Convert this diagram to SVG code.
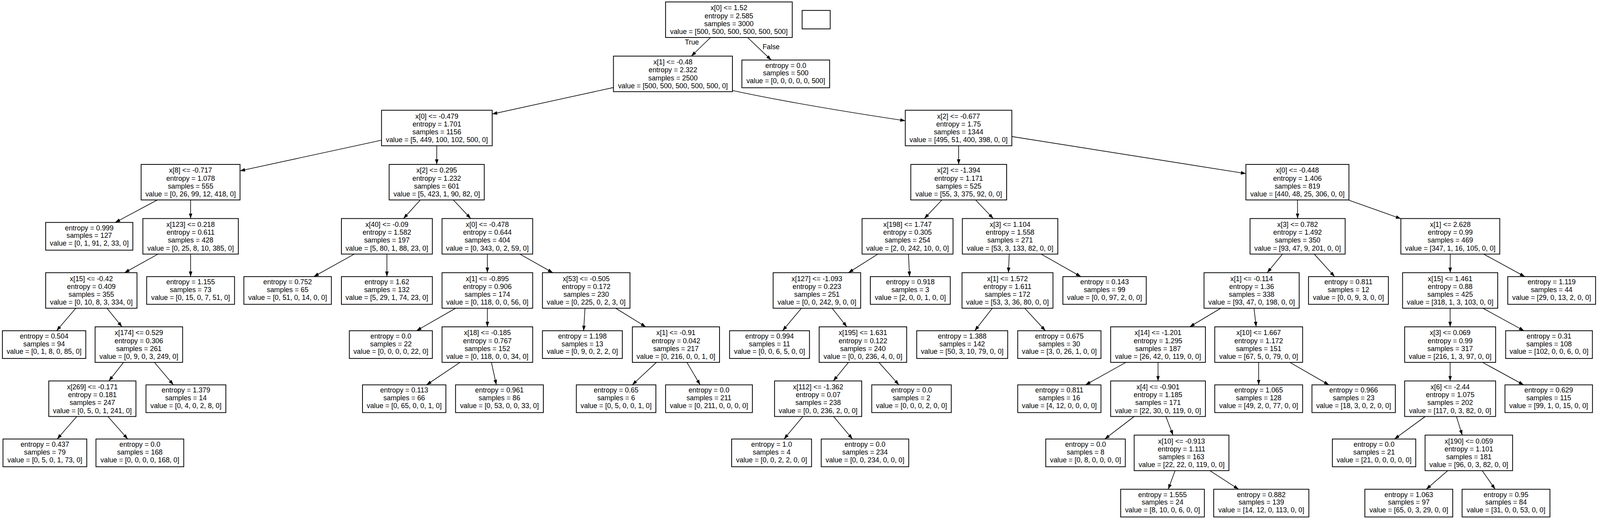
<svg xmlns="http://www.w3.org/2000/svg" width="4124" height="1329" viewBox="0 0 4124 1329">
<style>
.node rect{fill:#fff;stroke:#000;stroke-width:2}
.node text,.lbl{font-family:"Liberation Sans",Arial,Helvetica,sans-serif;font-size:18px;text-anchor:middle;fill:#000}
.edge path{fill:none;stroke:#000;stroke-width:1.6;marker-end:url(#ah)}
</style>
<defs>
<marker id="ah" markerUnits="userSpaceOnUse" markerWidth="14" markerHeight="10" refX="13" refY="4.5" orient="auto"><path d="M0,0 L13,4.5 L0,9 z" fill="#000"/></marker>
</defs>
<rect x="0" y="0" width="4124" height="1329" fill="#fff"/>
<g id="diagram" transform="scale(0.99176,1)">
<g id="edges" class="edge">
<path d="M1834.1,96 L1784.5,143.7"/>
<path d="M1929.7,96 L1990.7,153.7"/>
<path d="M1583.5,224.1 L1270.5,292"/>
<path d="M1890.6,231.7 Q2058,267.5 2336.8,309.3"/>
<path d="M984.8,359 L619.6,437.5"/>
<path d="M1127.5,373.3 L1127.3,421"/>
<path d="M2474.4,373.3 L2474.6,421"/>
<path d="M2611.8,349.6 L3216,444.5"/>
<path d="M406.1,512 L297.4,569.6"/>
<path d="M492,512 L492,559.6"/>
<path d="M1085,512 L1041.5,559.6"/>
<path d="M1170.2,512 L1215.1,559.6"/>
<path d="M2431.3,512 L2386,559.6"/>
<path d="M2518.2,512 L2563.8,559.6"/>
<path d="M3349.1,512 L3349.4,559.6"/>
<path d="M3480,512 L3616,560"/>
<path d="M407.9,650.6 L321.5,698.3"/>
<path d="M492,650.6 L492,708.3"/>
<path d="M914.6,650.6 L810,708.3"/>
<path d="M998.7,650.6 L998.7,708.3"/>
<path d="M1258,650.6 L1258,698.3"/>
<path d="M1341.8,650.6 L1427,698.3"/>
<path d="M2266,650.6 L2190,698.3"/>
<path d="M2344.9,650.6 L2347.9,708.3"/>
<path d="M2605.1,650.6 L2603,698.3"/>
<path d="M2687.4,650.6 L2790,708.3"/>
<path d="M3310.5,650.6 L3271,698.3"/>
<path d="M3392.5,650.6 L3445,708.3"/>
<path d="M3743.5,650.6 L3743.3,698.3"/>
<path d="M3829.6,650.6 L3936,708.3"/>
<path d="M195.8,789.3 L146,846.9"/>
<path d="M276.1,789.3 L315,836.9"/>
<path d="M1176.2,789.3 L1075,846.9"/>
<path d="M1258,789.3 L1258,836.9"/>
<path d="M1510,789.3 L1506.5,846.9"/>
<path d="M1589.2,789.3 L1667,836.9"/>
<path d="M2068.7,789.3 L2020,846.9"/>
<path d="M2148,789.3 L2186,836.9"/>
<path d="M2561.5,789.3 L2516,846.9"/>
<path d="M2645,789.3 L2698.5,846.9"/>
<path d="M3151.2,789.3 L3071,836.9"/>
<path d="M3236.9,789.3 L3242.5,836.9"/>
<path d="M3743.2,789.3 L3743.2,836.9"/>
<path d="M3827.8,789.3 L3933.9,846.9"/>
<path d="M318.9,927.9 L281,975.5"/>
<path d="M398.7,927.9 L447.6,985.5"/>
<path d="M1187.5,927.9 L1101,985.5"/>
<path d="M1268.4,927.9 L1281.2,985.5"/>
<path d="M1694.4,927.9 L1632,985.5"/>
<path d="M1773,927.9 L1807.3,985.5"/>
<path d="M2190,927.9 L2151,975.5"/>
<path d="M2268.7,927.9 L2320.3,985.5"/>
<path d="M2906.3,927.9 L2802,985.5"/>
<path d="M2989.2,927.9 L2989.2,975.5"/>
<path d="M3249,927.9 L3249,985.5"/>
<path d="M3329.5,927.9 L3430.4,985.5"/>
<path d="M3743.2,927.9 L3743.2,975.5"/>
<path d="M3826.7,927.9 L3933,985.5"/>
<path d="M198.2,1066.5 L147.5,1124.2"/>
<path d="M278.5,1066.5 L329.8,1124.2"/>
<path d="M2072.4,1066.5 L2023.8,1124.2"/>
<path d="M2151.7,1066.5 L2200.5,1124.2"/>
<path d="M2927.7,1066.5 L2851.7,1124.2"/>
<path d="M3009.4,1066.5 L3028,1114.2"/>
<path d="M3679,1066.5 L3599.4,1124.2"/>
<path d="M3759.4,1066.5 L3774.4,1114.2"/>
<path d="M3033.1,1205.2 L3015.6,1252.8"/>
<path d="M3122.9,1205.2 L3197.2,1252.8"/>
<path d="M3737,1205.2 L3681.5,1252.8"/>
<path d="M3826,1205.2 L3859.4,1252.8"/>
</g>
<text class="lbl" x="1786" y="114.5">True</text>
<text class="lbl" x="1990.4" y="126">False</text>

<g id="n0" class="node"><rect x="1718" y="5" width="327" height="91"/><text x="1881.5" y="26.5">x[0] &lt;= 1.52<tspan x="1881.5" dy="20.2">entropy = 2.585</tspan><tspan x="1881.5" dy="20.2">samples = 3000</tspan><tspan x="1881.5" dy="20.2">value = [500, 500, 500, 500, 500, 500]</tspan></text></g>
<g id="legend" class="node"><rect x="2070.5" y="26.7" width="72.5" height="47.3"/></g>

<g id="n1" class="node"><rect x="1583.5" y="143.7" width="307.1" height="91"/><text x="1737.05" y="165.2">x[1] &lt;= -0.48<tspan x="1737.05" dy="20.2">entropy = 2.322</tspan><tspan x="1737.05" dy="20.2">samples = 2500</tspan><tspan x="1737.05" dy="20.2">value = [500, 500, 500, 500, 500, 0]</tspan></text></g>
<g id="n2" class="node"><rect x="1915" y="153.7" width="226.5" height="71"/><text x="2028.25" y="173.7">entropy = 0.0<tspan x="2028.25" dy="19.7">samples = 500</tspan><tspan x="2028.25" dy="19.7">value = [0, 0, 0, 0, 0, 500]</tspan></text></g>

<g id="n3" class="node"><rect x="984.8" y="282.3" width="285.7" height="91"/><text x="1127.65" y="303.8">x[0] &lt;= -0.479<tspan x="1127.65" dy="20.2">entropy = 1.701</tspan><tspan x="1127.65" dy="20.2">samples = 1156</tspan><tspan x="1127.65" dy="20.2">value = [5, 449, 100, 102, 500, 0]</tspan></text></g>
<g id="n4" class="node"><rect x="2336.8" y="282.3" width="275" height="91"/><text x="2474.3" y="303.8">x[2] &lt;= -0.677<tspan x="2474.3" dy="20.2">entropy = 1.75</tspan><tspan x="2474.3" dy="20.2">samples = 1344</tspan><tspan x="2474.3" dy="20.2">value = [495, 51, 400, 398, 0, 0]</tspan></text></g>

<g id="n5" class="node"><rect x="364.3" y="421" width="255.3" height="91"/><text x="491.95" y="442.5">x[8] &lt;= -0.717<tspan x="491.95" dy="20.2">entropy = 1.078</tspan><tspan x="491.95" dy="20.2">samples = 555</tspan><tspan x="491.95" dy="20.2">value = [0, 26, 99, 12, 418, 0]</tspan></text></g>
<g id="n6" class="node"><rect x="1004.5" y="421" width="245.5" height="91"/><text x="1127.25" y="442.5">x[2] &lt;= 0.295<tspan x="1127.25" dy="20.2">entropy = 1.232</tspan><tspan x="1127.25" dy="20.2">samples = 601</tspan><tspan x="1127.25" dy="20.2">value = [5, 423, 1, 90, 82, 0]</tspan></text></g>
<g id="n7" class="node"><rect x="2351" y="421" width="247.4" height="91"/><text x="2474.7" y="442.5">x[2] &lt;= -1.394<tspan x="2474.7" dy="20.2">entropy = 1.171</tspan><tspan x="2474.7" dy="20.2">samples = 525</tspan><tspan x="2474.7" dy="20.2">value = [55, 3, 375, 92, 0, 0]</tspan></text></g>
<g id="n8" class="node"><rect x="3216" y="421" width="266" height="91"/><text x="3349" y="442.5">x[0] &lt;= -0.448<tspan x="3349" dy="20.2">entropy = 1.406</tspan><tspan x="3349" dy="20.2">samples = 819</tspan><tspan x="3349" dy="20.2">value = [440, 48, 25, 306, 0, 0]</tspan></text></g>

<g id="n9" class="node"><rect x="117.9" y="569.6" width="225" height="71"/><text x="230.4" y="589.6">entropy = 0.999<tspan x="230.4" dy="19.7">samples = 127</tspan><tspan x="230.4" dy="19.7">value = [0, 1, 91, 2, 33, 0]</tspan></text></g>
<g id="n10" class="node"><rect x="368.8" y="559.6" width="246.4" height="91"/><text x="492" y="581.1">x[123] &lt;= 0.218<tspan x="492" dy="20.2">entropy = 0.611</tspan><tspan x="492" dy="20.2">samples = 428</tspan><tspan x="492" dy="20.2">value = [0, 25, 8, 10, 385, 0]</tspan></text></g>
<g id="n11" class="node"><rect x="881.3" y="559.6" width="234.7" height="91"/><text x="998.65" y="581.1">x[40] &lt;= -0.09<tspan x="998.65" dy="20.2">entropy = 1.582</tspan><tspan x="998.65" dy="20.2">samples = 197</tspan><tspan x="998.65" dy="20.2">value = [5, 80, 1, 88, 23, 0]</tspan></text></g>
<g id="n12" class="node"><rect x="1141" y="559.6" width="234" height="91"/><text x="1258" y="581.1">x[0] &lt;= -0.478<tspan x="1258" dy="20.2">entropy = 0.644</tspan><tspan x="1258" dy="20.2">samples = 404</tspan><tspan x="1258" dy="20.2">value = [0, 343, 0, 2, 59, 0]</tspan></text></g>
<g id="n13" class="node"><rect x="2225.2" y="559.6" width="234.8" height="91"/><text x="2342.6" y="581.1">x[198] &lt;= 1.747<tspan x="2342.6" dy="20.2">entropy = 0.305</tspan><tspan x="2342.6" dy="20.2">samples = 254</tspan><tspan x="2342.6" dy="20.2">value = [2, 0, 242, 10, 0, 0]</tspan></text></g>
<g id="n14" class="node"><rect x="2484.1" y="559.6" width="246.4" height="91"/><text x="2607.3" y="581.1">x[3] &lt;= 1.104<tspan x="2607.3" dy="20.2">entropy = 1.558</tspan><tspan x="2607.3" dy="20.2">samples = 271</tspan><tspan x="2607.3" dy="20.2">value = [53, 3, 133, 82, 0, 0]</tspan></text></g>
<g id="n15" class="node"><rect x="3226.7" y="559.6" width="245.5" height="91"/><text x="3349.45" y="581.1">x[3] &lt;= 0.782<tspan x="3349.45" dy="20.2">entropy = 1.492</tspan><tspan x="3349.45" dy="20.2">samples = 350</tspan><tspan x="3349.45" dy="20.2">value = [93, 47, 9, 201, 0, 0]</tspan></text></g>
<g id="n16" class="node"><rect x="3616" y="559.6" width="255.3" height="91"/><text x="3743.65" y="581.1">x[1] &lt;= 2.628<tspan x="3743.65" dy="20.2">entropy = 0.99</tspan><tspan x="3743.65" dy="20.2">samples = 469</tspan><tspan x="3743.65" dy="20.2">value = [347, 1, 16, 105, 0, 0]</tspan></text></g>

<g id="n17" class="node"><rect x="117.9" y="698.3" width="235.7" height="91"/><text x="235.75" y="719.8">x[15] &lt;= -0.42<tspan x="235.75" dy="20.2">entropy = 0.409</tspan><tspan x="235.75" dy="20.2">samples = 355</tspan><tspan x="235.75" dy="20.2">value = [0, 10, 8, 3, 334, 0]</tspan></text></g>
<g id="n18" class="node"><rect x="378.6" y="708.3" width="226.8" height="71"/><text x="492" y="728.3">entropy = 1.155<tspan x="492" dy="19.7">samples = 73</tspan><tspan x="492" dy="19.7">value = [0, 15, 0, 7, 51, 0]</tspan></text></g>
<g id="n19" class="node"><rect x="629.5" y="708.3" width="225.9" height="71"/><text x="742.45" y="728.3">entropy = 0.752<tspan x="742.45" dy="19.7">samples = 65</tspan><tspan x="742.45" dy="19.7">value = [0, 51, 0, 14, 0, 0]</tspan></text></g>
<g id="n20" class="node"><rect x="881.3" y="708.3" width="234.7" height="71"/><text x="998.65" y="728.3">entropy = 1.62<tspan x="998.65" dy="19.7">samples = 132</tspan><tspan x="998.65" dy="19.7">value = [5, 29, 1, 74, 23, 0]</tspan></text></g>
<g id="n21" class="node"><rect x="1141" y="698.3" width="234" height="91"/><text x="1258" y="719.8">x[1] &lt;= -0.895<tspan x="1258" dy="20.2">entropy = 0.906</tspan><tspan x="1258" dy="20.2">samples = 174</tspan><tspan x="1258" dy="20.2">value = [0, 118, 0, 0, 56, 0]</tspan></text></g>
<g id="n22" class="node"><rect x="1400.2" y="698.3" width="225.9" height="91"/><text x="1513.15" y="719.8">x[53] &lt;= -0.505<tspan x="1513.15" dy="20.2">entropy = 0.172</tspan><tspan x="1513.15" dy="20.2">samples = 230</tspan><tspan x="1513.15" dy="20.2">value = [0, 225, 0, 2, 3, 0]</tspan></text></g>
<g id="n23" class="node"><rect x="1995.7" y="698.3" width="225.9" height="91"/><text x="2108.65" y="719.8">x[127] &lt;= -1.093<tspan x="2108.65" dy="20.2">entropy = 0.223</tspan><tspan x="2108.65" dy="20.2">samples = 251</tspan><tspan x="2108.65" dy="20.2">value = [0, 0, 242, 9, 0, 0]</tspan></text></g>
<g id="n24" class="node"><rect x="2246.6" y="708.3" width="206.3" height="71"/><text x="2349.75" y="728.3">entropy = 0.918<tspan x="2349.75" dy="19.7">samples = 3</tspan><tspan x="2349.75" dy="19.7">value = [2, 0, 0, 1, 0, 0]</tspan></text></g>
<g id="n25" class="node"><rect x="2483.2" y="698.3" width="234.8" height="91"/><text x="2600.6" y="719.8">x[1] &lt;= 1.572<tspan x="2600.6" dy="20.2">entropy = 1.611</tspan><tspan x="2600.6" dy="20.2">samples = 172</tspan><tspan x="2600.6" dy="20.2">value = [53, 3, 36, 80, 0, 0]</tspan></text></g>
<g id="n26" class="node"><rect x="2743.6" y="708.3" width="215.2" height="71"/><text x="2851.2" y="728.3">entropy = 0.143<tspan x="2851.2" dy="19.7">samples = 99</tspan><tspan x="2851.2" dy="19.7">value = [0, 0, 97, 2, 0, 0]</tspan></text></g>
<g id="n27" class="node"><rect x="3107.9" y="698.3" width="245.6" height="91"/><text x="3230.7" y="719.8">x[1] &lt;= -0.114<tspan x="3230.7" dy="20.2">entropy = 1.36</tspan><tspan x="3230.7" dy="20.2">samples = 338</tspan><tspan x="3230.7" dy="20.2">value = [93, 47, 0, 198, 0, 0]</tspan></text></g>
<g id="n28" class="node"><rect x="3377.6" y="708.3" width="206.2" height="71"/><text x="3480.7" y="728.3">entropy = 0.811<tspan x="3480.7" dy="19.7">samples = 12</tspan><tspan x="3480.7" dy="19.7">value = [0, 0, 9, 3, 0, 0]</tspan></text></g>
<g id="n29" class="node"><rect x="3620.4" y="698.3" width="245.6" height="91"/><text x="3743.2" y="719.8">x[15] &lt;= 1.461<tspan x="3743.2" dy="20.2">entropy = 0.88</tspan><tspan x="3743.2" dy="20.2">samples = 425</tspan><tspan x="3743.2" dy="20.2">value = [318, 1, 3, 103, 0, 0]</tspan></text></g>
<g id="n30" class="node"><rect x="3891.9" y="708.3" width="226.7" height="71"/><text x="4005.25" y="728.3">entropy = 1.119<tspan x="4005.25" dy="19.7">samples = 44</tspan><tspan x="4005.25" dy="19.7">value = [29, 0, 13, 2, 0, 0]</tspan></text></g>

<g id="n31" class="node"><rect x="6.2" y="846.9" width="215.2" height="71"/><text x="113.8" y="866.9">entropy = 0.504<tspan x="113.8" dy="19.7">samples = 94</tspan><tspan x="113.8" dy="19.7">value = [0, 1, 8, 0, 85, 0]</tspan></text></g>
<g id="n32" class="node"><rect x="245.5" y="836.9" width="225.9" height="91"/><text x="358.45" y="858.4">x[174] &lt;= 0.529<tspan x="358.45" dy="20.2">entropy = 0.306</tspan><tspan x="358.45" dy="20.2">samples = 261</tspan><tspan x="358.45" dy="20.2">value = [0, 9, 0, 3, 249, 0]</tspan></text></g>
<g id="n33" class="node"><rect x="901.8" y="846.9" width="214.2" height="71"/><text x="1008.9" y="866.9">entropy = 0.0<tspan x="1008.9" dy="19.7">samples = 22</tspan><tspan x="1008.9" dy="19.7">value = [0, 0, 0, 0, 22, 0]</tspan></text></g>
<g id="n34" class="node"><rect x="1141" y="836.9" width="234" height="91"/><text x="1258" y="858.4">x[18] &lt;= -0.185<tspan x="1258" dy="20.2">entropy = 0.767</tspan><tspan x="1258" dy="20.2">samples = 152</tspan><tspan x="1258" dy="20.2">value = [0, 118, 0, 0, 34, 0]</tspan></text></g>
<g id="n35" class="node"><rect x="1400.2" y="846.9" width="206.2" height="71"/><text x="1503.3" y="866.9">entropy = 1.198<tspan x="1503.3" dy="19.7">samples = 13</tspan><tspan x="1503.3" dy="19.7">value = [0, 9, 0, 2, 2, 0]</tspan></text></g>
<g id="n36" class="node"><rect x="1632.3" y="836.9" width="225" height="91"/><text x="1744.8" y="858.4">x[1] &lt;= -0.91<tspan x="1744.8" dy="20.2">entropy = 0.042</tspan><tspan x="1744.8" dy="20.2">samples = 217</tspan><tspan x="1744.8" dy="20.2">value = [0, 216, 0, 0, 1, 0]</tspan></text></g>
<g id="n37" class="node"><rect x="1883.2" y="846.9" width="206.3" height="71"/><text x="1986.35" y="866.9">entropy = 0.994<tspan x="1986.35" dy="19.7">samples = 11</tspan><tspan x="1986.35" dy="19.7">value = [0, 0, 6, 5, 0, 0]</tspan></text></g>
<g id="n38" class="node"><rect x="2114.5" y="836.9" width="225.9" height="91"/><text x="2227.45" y="858.4">x[195] &lt;= 1.631<tspan x="2227.45" dy="20.2">entropy = 0.122</tspan><tspan x="2227.45" dy="20.2">samples = 240</tspan><tspan x="2227.45" dy="20.2">value = [0, 0, 236, 4, 0, 0]</tspan></text></g>
<g id="n39" class="node"><rect x="2366.3" y="846.9" width="234.8" height="71"/><text x="2483.7" y="866.9">entropy = 1.388<tspan x="2483.7" dy="19.7">samples = 142</tspan><tspan x="2483.7" dy="19.7">value = [50, 3, 10, 79, 0, 0]</tspan></text></g>
<g id="n40" class="node"><rect x="2627" y="846.9" width="214.9" height="71"/><text x="2734.45" y="866.9">entropy = 0.675<tspan x="2734.45" dy="19.7">samples = 30</tspan><tspan x="2734.45" dy="19.7">value = [3, 0, 26, 1, 0, 0]</tspan></text></g>
<g id="n41" class="node"><rect x="2866.9" y="836.9" width="244.6" height="91"/><text x="2989.2" y="858.4">x[14] &lt;= -1.201<tspan x="2989.2" dy="20.2">entropy = 1.295</tspan><tspan x="2989.2" dy="20.2">samples = 187</tspan><tspan x="2989.2" dy="20.2">value = [26, 42, 0, 119, 0, 0]</tspan></text></g>
<g id="n42" class="node"><rect x="3135.6" y="836.9" width="226.8" height="91"/><text x="3249" y="858.4">x[10] &lt;= 1.667<tspan x="3249" dy="20.2">entropy = 1.172</tspan><tspan x="3249" dy="20.2">samples = 151</tspan><tspan x="3249" dy="20.2">value = [67, 5, 0, 79, 0, 0]</tspan></text></g>
<g id="n43" class="node"><rect x="3625.8" y="836.9" width="234.8" height="91"/><text x="3743.2" y="858.4">x[3] &lt;= 0.069<tspan x="3743.2" dy="20.2">entropy = 0.99</tspan><tspan x="3743.2" dy="20.2">samples = 317</tspan><tspan x="3743.2" dy="20.2">value = [216, 1, 3, 97, 0, 0]</tspan></text></g>
<g id="n44" class="node"><rect x="3886.5" y="846.9" width="223.9" height="71"/><text x="3998.45" y="866.9">entropy = 0.31<tspan x="3998.45" dy="19.7">samples = 108</tspan><tspan x="3998.45" dy="19.7">value = [102, 0, 0, 6, 0, 0]</tspan></text></g>

<g id="n45" class="node"><rect x="125.9" y="975.5" width="225" height="91"/><text x="238.4" y="997">x[269] &lt;= -0.171<tspan x="238.4" dy="20.2">entropy = 0.181</tspan><tspan x="238.4" dy="20.2">samples = 247</tspan><tspan x="238.4" dy="20.2">value = [0, 5, 0, 1, 241, 0]</tspan></text></g>
<g id="n46" class="node"><rect x="376.8" y="985.5" width="206.2" height="71"/><text x="479.9" y="1005.5">entropy = 1.379<tspan x="479.9" dy="19.7">samples = 14</tspan><tspan x="479.9" dy="19.7">value = [0, 4, 0, 2, 8, 0]</tspan></text></g>
<g id="n47" class="node"><rect x="935.7" y="985.5" width="215.2" height="71"/><text x="1043.3" y="1005.5">entropy = 0.113<tspan x="1043.3" dy="19.7">samples = 66</tspan><tspan x="1043.3" dy="19.7">value = [0, 65, 0, 0, 1, 0]</tspan></text></g>
<g id="n48" class="node"><rect x="1175.9" y="985.5" width="226.6" height="71"/><text x="1289.2" y="1005.5">entropy = 0.961<tspan x="1289.2" dy="19.7">samples = 86</tspan><tspan x="1289.2" dy="19.7">value = [0, 53, 0, 0, 33, 0]</tspan></text></g>
<g id="n49" class="node"><rect x="1487.7" y="985.5" width="205.3" height="71"/><text x="1590.35" y="1005.5">entropy = 0.65<tspan x="1590.35" dy="19.7">samples = 6</tspan><tspan x="1590.35" dy="19.7">value = [0, 5, 0, 0, 1, 0]</tspan></text></g>
<g id="n50" class="node"><rect x="1718" y="985.5" width="224.1" height="71"/><text x="1830.05" y="1005.5">entropy = 0.0<tspan x="1830.05" dy="19.7">samples = 211</tspan><tspan x="1830.05" dy="19.7">value = [0, 211, 0, 0, 0, 0]</tspan></text></g>
<g id="n51" class="node"><rect x="1999.3" y="975.5" width="225" height="91"/><text x="2111.8" y="997">x[112] &lt;= -1.362<tspan x="2111.8" dy="20.2">entropy = 0.07</tspan><tspan x="2111.8" dy="20.2">samples = 238</tspan><tspan x="2111.8" dy="20.2">value = [0, 0, 236, 2, 0, 0]</tspan></text></g>
<g id="n52" class="node"><rect x="2250.2" y="985.5" width="205.3" height="71"/><text x="2352.85" y="1005.5">entropy = 0.0<tspan x="2352.85" dy="19.7">samples = 2</tspan><tspan x="2352.85" dy="19.7">value = [0, 0, 0, 2, 0, 0]</tspan></text></g>
<g id="n53" class="node"><rect x="2627" y="985.5" width="214.9" height="71"/><text x="2734.45" y="1005.5">entropy = 0.811<tspan x="2734.45" dy="19.7">samples = 16</tspan><tspan x="2734.45" dy="19.7">value = [4, 12, 0, 0, 0, 0]</tspan></text></g>
<g id="n54" class="node"><rect x="2866.9" y="975.5" width="244.6" height="91"/><text x="2989.2" y="997">x[4] &lt;= -0.901<tspan x="2989.2" dy="20.2">entropy = 1.185</tspan><tspan x="2989.2" dy="20.2">samples = 171</tspan><tspan x="2989.2" dy="20.2">value = [22, 30, 0, 119, 0, 0]</tspan></text></g>
<g id="n55" class="node"><rect x="3135.6" y="985.5" width="226.8" height="71"/><text x="3249" y="1005.5">entropy = 1.065<tspan x="3249" dy="19.7">samples = 128</tspan><tspan x="3249" dy="19.7">value = [49, 2, 0, 77, 0, 0]</tspan></text></g>
<g id="n56" class="node"><rect x="3386.5" y="985.5" width="215.2" height="71"/><text x="3494.1" y="1005.5">entropy = 0.966<tspan x="3494.1" dy="19.7">samples = 23</tspan><tspan x="3494.1" dy="19.7">value = [18, 3, 0, 2, 0, 0]</tspan></text></g>
<g id="n57" class="node"><rect x="3625.8" y="975.5" width="234.8" height="91"/><text x="3743.2" y="997">x[6] &lt;= -2.44<tspan x="3743.2" dy="20.2">entropy = 1.075</tspan><tspan x="3743.2" dy="20.2">samples = 202</tspan><tspan x="3743.2" dy="20.2">value = [117, 0, 3, 82, 0, 0]</tspan></text></g>
<g id="n58" class="node"><rect x="3884.7" y="985.5" width="225.9" height="71"/><text x="3997.65" y="1005.5">entropy = 0.629<tspan x="3997.65" dy="19.7">samples = 115</tspan><tspan x="3997.65" dy="19.7">value = [99, 1, 0, 15, 0, 0]</tspan></text></g>

<g id="n59" class="node"><rect x="7.7" y="1124.2" width="216.3" height="71"/><text x="115.85" y="1144.2">entropy = 0.437<tspan x="115.85" dy="19.7">samples = 79</tspan><tspan x="115.85" dy="19.7">value = [0, 5, 0, 1, 73, 0]</tspan></text></g>
<g id="n60" class="node"><rect x="247.7" y="1124.2" width="226.6" height="71"/><text x="361" y="1144.2">entropy = 0.0<tspan x="361" dy="19.7">samples = 168</tspan><tspan x="361" dy="19.7">value = [0, 0, 0, 0, 168, 0]</tspan></text></g>
<g id="n61" class="node"><rect x="1888.6" y="1124.2" width="206.2" height="71"/><text x="1991.7" y="1144.2">entropy = 1.0<tspan x="1991.7" dy="19.7">samples = 4</tspan><tspan x="1991.7" dy="19.7">value = [0, 0, 2, 2, 0, 0]</tspan></text></g>
<g id="n62" class="node"><rect x="2119.8" y="1124.2" width="225.9" height="71"/><text x="2232.75" y="1144.2">entropy = 0.0<tspan x="2232.75" dy="19.7">samples = 234</tspan><tspan x="2232.75" dy="19.7">value = [0, 0, 234, 0, 0, 0]</tspan></text></g>
<g id="n63" class="node"><rect x="2699.4" y="1124.2" width="205.3" height="71"/><text x="2802.05" y="1144.2">entropy = 0.0<tspan x="2802.05" dy="19.7">samples = 8</tspan><tspan x="2802.05" dy="19.7">value = [0, 8, 0, 0, 0, 0]</tspan></text></g>
<g id="n64" class="node"><rect x="2927.6" y="1114.2" width="244.6" height="91"/><text x="3049.9" y="1135.7">x[10] &lt;= -0.913<tspan x="3049.9" dy="20.2">entropy = 1.111</tspan><tspan x="3049.9" dy="20.2">samples = 163</tspan><tspan x="3049.9" dy="20.2">value = [22, 22, 0, 119, 0, 0]</tspan></text></g>
<g id="n65" class="node"><rect x="3439.2" y="1124.2" width="215.2" height="71"/><text x="3546.8" y="1144.2">entropy = 0.0<tspan x="3546.8" dy="19.7">samples = 21</tspan><tspan x="3546.8" dy="19.7">value = [21, 0, 0, 0, 0, 0]</tspan></text></g>
<g id="n66" class="node"><rect x="3678.5" y="1114.2" width="225.9" height="91"/><text x="3791.45" y="1135.7">x[190] &lt;= 0.059<tspan x="3791.45" dy="20.2">entropy = 1.101</tspan><tspan x="3791.45" dy="20.2">samples = 181</tspan><tspan x="3791.45" dy="20.2">value = [96, 0, 3, 82, 0, 0]</tspan></text></g>

<g id="n67" class="node"><rect x="2892.8" y="1252.8" width="216" height="71"/><text x="3000.8" y="1272.8">entropy = 1.555<tspan x="3000.8" dy="19.7">samples = 24</tspan><tspan x="3000.8" dy="19.7">value = [8, 10, 0, 6, 0, 0]</tspan></text></g>
<g id="n68" class="node"><rect x="3132.9" y="1252.8" width="245.6" height="71"/><text x="3255.7" y="1272.8">entropy = 0.882<tspan x="3255.7" dy="19.7">samples = 139</tspan><tspan x="3255.7" dy="19.7">value = [14, 12, 0, 113, 0, 0]</tspan></text></g>
<g id="n69" class="node"><rect x="3523.1" y="1252.8" width="226.8" height="71"/><text x="3636.5" y="1272.8">entropy = 1.063<tspan x="3636.5" dy="19.7">samples = 97</tspan><tspan x="3636.5" dy="19.7">value = [65, 0, 3, 29, 0, 0]</tspan></text></g>
<g id="n70" class="node"><rect x="3774" y="1252.8" width="226.8" height="71"/><text x="3887.4" y="1272.8">entropy = 0.95<tspan x="3887.4" dy="19.7">samples = 84</tspan><tspan x="3887.4" dy="19.7">value = [31, 0, 0, 53, 0, 0]</tspan></text></g>
</g>
</svg>
